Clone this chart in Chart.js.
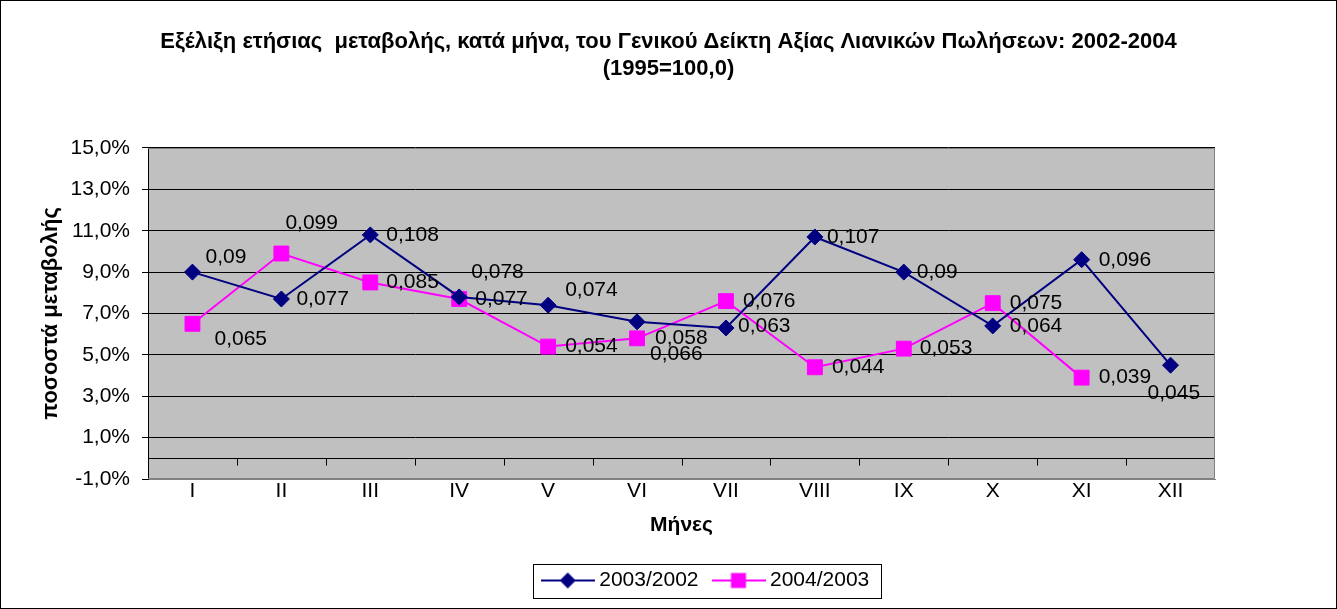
<!DOCTYPE html>
<html>
<head>
<meta charset="utf-8">
<script src="https://cdn.jsdelivr.net/npm/chart.js@4.4.1/dist/chart.umd.min.js"></script>
<style>
  html, body { margin: 0; padding: 0; background: #fff; }
  #wrap { width: 1337px; height: 609px; }
</style>
</head>
<body>
<div id="wrap"><canvas id="retailChart" width="1337" height="609"></canvas></div>
<script>
// data
const months = ['I', 'II', 'III', 'IV', 'V', 'VI', 'VII', 'VIII', 'IX', 'X', 'XI', 'XII'];
const change0302 = [0.09, 0.077, 0.108, 0.078, 0.074, 0.066, 0.063, 0.107, 0.09, 0.064, 0.096, 0.045];
const change0403 = [0.065, 0.099, 0.085, 0.077, 0.054, 0.058, 0.076, 0.044, 0.053, 0.075, 0.039, null];
const seriesNames = ['2003/2002', '2004/2003'];
const titleLines = ['Εξέλιξη ετήσιας  μεταβολής, κατά μήνα, του Γενικού Δείκτη Αξίας Λιανικών Πωλήσεων: 2002-2004', '(1995=100,0)'];

// label nudges (px) so the value labels sit like the original
const labelDx = [
  [13, 15, 16, 12, 17, 13, 12, 12, 13, 17, 17, -23],
  [22, 4, 16, 16, 17, 18, 17, 17, 16, 17, 17, 0]
];
const labelDy = [
  [-15, 0, 0, -25, -15, 32, -2, 0, 0, 0, 0, 28],
  [15, -30, 0, 0, 0, 0, 0, 0, 0, 0, 0, 0]
];

const FONT = '"Liberation Sans", Arial, sans-serif';
const NAVY = '#000080';
const MAGENTA = '#FF00FF';

function legendIcon(color, shape) {
  const c = document.createElement('canvas');
  c.width = 54; c.height = 22;
  const g = c.getContext('2d');
  g.strokeStyle = color;
  g.lineWidth = 2;
  g.beginPath(); g.moveTo(0, 11); g.lineTo(54, 11); g.stroke();
  g.fillStyle = color;
  g.beginPath();
  if (shape === 'diamond') {
    g.moveTo(27, 3); g.lineTo(35, 11); g.lineTo(27, 19); g.lineTo(19, 11);
  } else {
    g.rect(19.5, 3.5, 15, 15);
  }
  g.closePath(); g.fill();
  return c;
}
const icons = [legendIcon(NAVY, 'diamond'), legendIcon(MAGENTA, 'square')];

const fmtComma = v => String(v).replace('.', ',');

// grey plot area, zero line with category ticks, plot frame, legend frame
const plotDecor = {
  id: 'plotDecor',
  afterUpdate(chart) {
    // the original centres title and legend on the page, not on the plot
    const tb = chart.titleBlock;
    if (tb) {
      const dx = chart.width / 2 - (tb.left + tb.right) / 2;
      tb.left += dx; tb.right += dx;
    }
    const lg = chart.legend;
    if (lg) {
      const dx = 708 - (lg.left + lg.right) / 2;
      lg.left += dx; lg.right += dx;
      (lg.legendHitBoxes || []).forEach(hb => { hb.left += dx; });
    }
  },
  beforeDraw(chart) {
    const { ctx, chartArea: a } = chart;
    ctx.save();
    ctx.fillStyle = '#C0C0C0';
    ctx.fillRect(a.left, a.top, a.right - a.left, a.bottom - a.top);
    ctx.restore();
  },
  beforeDatasetsDraw(chart) {
    const { ctx, chartArea: a, scales } = chart;
    const y0 = Math.round(scales.y.getPixelForValue(0)) + 0.5;
    ctx.save();
    ctx.strokeStyle = '#808080';
    ctx.lineWidth = 1;
    ctx.beginPath();
    ctx.moveTo(a.left, a.top + 0.5); ctx.lineTo(a.right - 0.5, a.top + 0.5);
    ctx.lineTo(a.right - 0.5, a.bottom - 0.5); ctx.lineTo(a.left, a.bottom - 0.5);
    ctx.stroke();
    ctx.strokeStyle = '#000';
    ctx.beginPath();
    ctx.moveTo(a.left, y0); ctx.lineTo(a.right - 1, y0);
    for (let i = 1; i < months.length; i++) {
      const xb = Math.round((scales.x.getPixelForValue(i - 1) + scales.x.getPixelForValue(i)) / 2) + 0.5;
      ctx.moveTo(xb, y0); ctx.lineTo(xb, y0 + 7);
    }
    ctx.stroke();
    ctx.restore();
  },
  afterDraw(chart) {
    const { ctx } = chart;
    ctx.save();
    const lg = chart.legend;
    const boxes = lg.legendHitBoxes;
    if (boxes && boxes.length) {
      const first = boxes[0], last = boxes[boxes.length - 1];
      const cy = first.top + first.height / 2;
      const l = Math.round(first.left - 14) + 0.5;
      const r = Math.round(last.left + last.width + 12) + 0.5;
      ctx.strokeStyle = '#000';
      ctx.lineWidth = 1;
      ctx.strokeRect(l, Math.round(cy - 17) + 0.5, r - l, 34);
    }
    ctx.strokeStyle = '#000';
    ctx.strokeRect(0.5, 0.5, chart.width - 1, chart.height - 1);
    ctx.restore();
  }
};

const valueLabels = {
  id: 'valueLabels',
  afterDatasetsDraw(chart) {
    const { ctx } = chart;
    ctx.save();
    ctx.font = '21px ' + FONT;
    ctx.fillStyle = '#000';
    ctx.textAlign = 'left';
    ctx.textBaseline = 'middle';
    chart.data.datasets.forEach((ds, di) => {
      const meta = chart.getDatasetMeta(di);
      meta.data.forEach((pt, i) => {
        const v = ds.data[i];
        if (v === null || v === undefined) return;
        ctx.fillText(fmtComma(v), pt.x + labelDx[di][i], pt.y + labelDy[di][i]);
      });
    });
    ctx.restore();
  }
};

const ctx = document.getElementById('retailChart').getContext('2d');
new Chart(ctx, {
  type: 'line',
  data: {
    labels: months,
    datasets: [
      {
        label: seriesNames[0],
        data: change0302,
        borderColor: NAVY,
        backgroundColor: NAVY,
        borderWidth: 2,
        pointStyle: 'rectRot',
        pointRadius: 8,
        pointBorderWidth: 1,
        tension: 0
      },
      {
        label: seriesNames[1],
        data: change0403,
        borderColor: MAGENTA,
        backgroundColor: MAGENTA,
        borderWidth: 2,
        pointStyle: 'rect',
        pointRadius: 10.5,
        pointBorderWidth: 1,
        tension: 0
      }
    ]
  },
  options: {
    responsive: false,
    animation: false,
    devicePixelRatio: 1,
    layout: {
      padding: { top: 10, left: 18, right: 122, bottom: 8 }
    },
    plugins: {
      title: {
        display: true,
        text: titleLines,
        color: '#000',
        font: { family: FONT, size: 22, weight: 'bold', lineHeight: 1.227 },
        padding: { top: 18, bottom: 66 }
      },
      legend: {
        position: 'bottom',
        labels: {
          usePointStyle: true,
          pointStyleWidth: 42,
          padding: 19,
          color: '#000',
          font: { family: FONT, size: 21 },
          generateLabels: chart => chart.data.datasets.map((ds, i) => ({
            text: ds.label,
            pointStyle: icons[i],
            fillStyle: ds.borderColor,
            strokeStyle: ds.borderColor,
            lineWidth: 0,
            hidden: false,
            datasetIndex: i,
            fontColor: '#000'
          }))
        }
      },
      tooltip: { enabled: false }
    },
    scales: {
      x: {
        offset: true,
        grid: { display: false, drawTicks: false },
        border: { color: '#808080' },
        ticks: {
          color: '#000',
          padding: 0,
          font: { family: FONT, size: 21 }
        },
        title: {
          display: true,
          text: 'Μήνες',
          color: '#000',
          font: { family: FONT, size: 21, weight: 'bold' },
          padding: { top: 6, bottom: 13 }
        },
        afterFit: scale => { scale.height = 72; }
      },
      y: {
        min: -0.01,
        max: 0.15,
        grid: { color: '#000', lineWidth: 1, tickLength: 6, tickColor: '#000' },
        border: { color: '#000', width: 1 },
        ticks: {
          stepSize: 0.02,
          color: '#000',
          padding: 12,
          font: { family: FONT, size: 21 },
          callback: v => (v * 100).toFixed(1).replace('.', ',') + '%'
        },
        title: {
          display: true,
          text: 'ποσοστά μεταβολής',
          color: '#000',
          font: { family: FONT, size: 22, weight: 'bold' },
          padding: { top: 20, bottom: 0 }
        },
        afterFit: scale => { scale.width = 130; }
      }
    }
  },
  plugins: [plotDecor, valueLabels]
});
</script>
</body>
</html>
